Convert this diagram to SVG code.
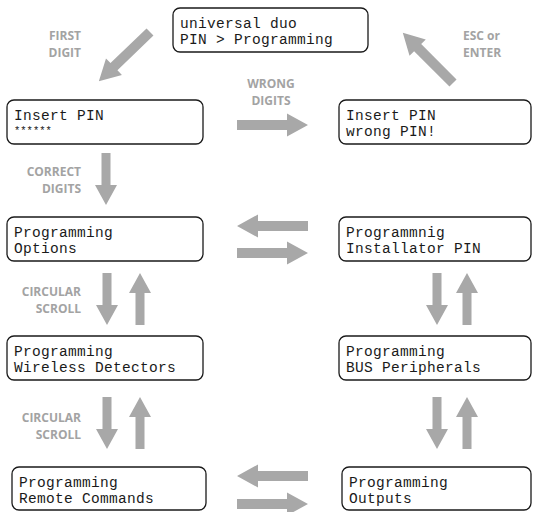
<svg xmlns="http://www.w3.org/2000/svg" xmlns:xlink="http://www.w3.org/1999/xlink" width="533" height="512" viewBox="0 0 533 512">
  <style>
    .box { fill: #ffffff; stroke: #1a1a1a; stroke-width: 1.3; }
    .lcd { font-family: "Liberation Mono", "DejaVu Sans Mono", monospace; font-size: 14.5px; letter-spacing: 0.3px; fill: #1a1a1a; }
    .stars { font-family: "Liberation Mono", "DejaVu Sans Mono", monospace; font-size: 10.5px; fill: #1a1a1a; }
    .lbl { font-family: "Open Sans", "Liberation Sans", sans-serif; font-weight: bold; font-size: 12px; fill: #a3a3a3; }
    .arr { fill: #a8a8a8; }
  </style>
  <defs>
    <path id="ah" d="M0,-5 H50 V-11.5 L71,0 L50,11.5 V5 H0 Z"/>
    <path id="av" d="M0,-4.5 H32 V-11 L52,0 L32,11 V4.5 H0 Z"/>
  </defs>

  <rect width="533" height="512" fill="#ffffff"/>

  <g id="connectors" class="arr">
    <use xlink:href="#ah" transform="translate(150,32) rotate(136.1)"/>
    <use xlink:href="#ah" transform="translate(453,83) rotate(-135)"/>
    <use xlink:href="#ah" transform="translate(237,125)"/>
    <use xlink:href="#ah" transform="translate(308,226) rotate(180)"/>
    <use xlink:href="#ah" transform="translate(237,253)"/>
    <use xlink:href="#ah" transform="translate(308,476) rotate(180)"/>
    <use xlink:href="#ah" transform="translate(237,504)"/>
    <use xlink:href="#av" transform="translate(106,153) rotate(90)"/>
    <use xlink:href="#av" transform="translate(107,273) rotate(90)"/>
    <use xlink:href="#av" transform="translate(140,325) rotate(-90)"/>
    <use xlink:href="#av" transform="translate(107,397) rotate(90)"/>
    <use xlink:href="#av" transform="translate(140,449) rotate(-90)"/>
    <use xlink:href="#av" transform="translate(437,273) rotate(90)"/>
    <use xlink:href="#av" transform="translate(467,325) rotate(-90)"/>
    <use xlink:href="#av" transform="translate(437,397) rotate(90)"/>
    <use xlink:href="#av" transform="translate(467,449) rotate(-90)"/>
  </g>

  <g id="labels" class="lbl">
    <text x="81" y="40" text-anchor="end">FIRST</text>
    <text x="81" y="57" text-anchor="end">DIGIT</text>
    <text x="463" y="40">ESC or</text>
    <text x="463" y="57">ENTER</text>
    <text x="271" y="88" text-anchor="middle">WRONG</text>
    <text x="271" y="105" text-anchor="middle">DIGITS</text>
    <text x="81" y="176" text-anchor="end">CORRECT</text>
    <text x="81" y="193" text-anchor="end">DIGITS</text>
    <text x="81" y="296" text-anchor="end">CIRCULAR</text>
    <text x="81" y="313" text-anchor="end">SCROLL</text>
    <text x="81" y="422" text-anchor="end">CIRCULAR</text>
    <text x="81" y="439" text-anchor="end">SCROLL</text>
  </g>

  <g id="node-start">
    <rect class="box" x="173" y="8" width="195" height="44" rx="7"/>
    <text class="lcd" x="180" y="27.5">universal duo</text>
    <text class="lcd" x="180" y="44">PIN &gt; Programming</text>
  </g>
  <g id="node-insert-pin">
    <rect class="box" x="7" y="100" width="196" height="44" rx="7"/>
    <text class="lcd" x="14" y="119.5">Insert PIN</text>
    <text class="stars" x="14" y="133.5">******</text>
  </g>
  <g id="node-wrong-pin">
    <rect class="box" x="339" y="100" width="192" height="44" rx="7"/>
    <text class="lcd" x="346" y="119.5">Insert PIN</text>
    <text class="lcd" x="346" y="136">wrong PIN!</text>
  </g>
  <g id="node-options">
    <rect class="box" x="7" y="217" width="196" height="44" rx="7"/>
    <text class="lcd" x="14" y="236.5">Programming</text>
    <text class="lcd" x="14" y="253">Options</text>
  </g>
  <g id="node-installator">
    <rect class="box" x="339" y="217" width="192" height="44" rx="7"/>
    <text class="lcd" x="346" y="236.5">Programmnig</text>
    <text class="lcd" x="346" y="253">Installator PIN</text>
  </g>
  <g id="node-wireless">
    <rect class="box" x="7" y="336" width="196" height="44" rx="7"/>
    <text class="lcd" x="14" y="355.5">Programming</text>
    <text class="lcd" x="14" y="372">Wireless Detectors</text>
  </g>
  <g id="node-bus">
    <rect class="box" x="339" y="336" width="192" height="44" rx="7"/>
    <text class="lcd" x="346" y="355.5">Programming</text>
    <text class="lcd" x="346" y="372">BUS Peripherals</text>
  </g>
  <g id="node-remote">
    <rect class="box" x="12" y="467" width="194" height="43" rx="7"/>
    <text class="lcd" x="19" y="486.5">Programming</text>
    <text class="lcd" x="19" y="503">Remote Commands</text>
  </g>
  <g id="node-outputs">
    <rect class="box" x="342" y="467" width="189" height="43" rx="7"/>
    <text class="lcd" x="349" y="486.5">Programming</text>
    <text class="lcd" x="349" y="503">Outputs</text>
  </g>
</svg>
